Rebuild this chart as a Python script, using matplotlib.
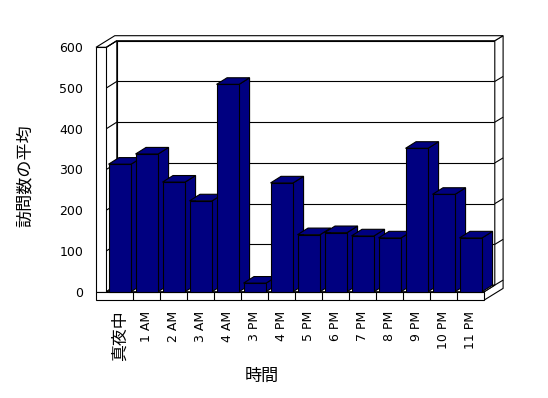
import matplotlib
matplotlib.use('Agg')
import matplotlib.pyplot as plt
from matplotlib.patches import Polygon

plt.rcParams['font.family'] = ['DejaVu Sans', 'Noto Sans CJK JP']

categories = ['真夜中', '1 AM', '2 AM', '3 AM', '4 AM', '3 PM', '4 PM', '5 PM',
              '6 PM', '7 PM', '8 PM', '9 PM', '10 PM', '11 PM']
values = [313, 338, 269, 223, 509, 21, 267, 140, 145, 137, 132, 352, 239, 132]
y_ticks = [0, 100, 200, 300, 400, 500, 600]
y_label = '訪問数の平均'
x_label = '時間'

W, H = 548, 398
fig = plt.figure(figsize=(W / 100, H / 100), dpi=100)
fig.patch.set_facecolor('white')

# front plane of the plot (pixels measured from the top-left)
L, R, T, B = 106.3, 484.3, 47.3, 291.7
ax = fig.add_axes([L / W, (H - B) / H, (R - L) / W, (B - T) / H])
n = len(categories)
ax.set_xlim(-0.5, n - 0.5)
ax.set_ylim(0, 600)
for s in ax.spines.values():
    s.set_visible(False)
ax.patch.set_visible(False)

pxx = (R - L) / n            # pixels per category
pxy = (B - T) / 600.0        # pixels per value unit
DX, DY = 10.5 / pxx, 6.6 / pxy      # depth of floor
TX, TY = 8.3 / pxx, 5.0 / pxy       # thickness of back wall
FT = 8.3 / pxy                      # floor thickness
LT = 10.3 / pxx                     # left wall thickness
LWD = 0.8
x0, x1 = -0.5, n - 0.5
ymax = 600
navy = '#000080'


def poly(pts, fc, z):
    ax.add_patch(Polygon(pts, closed=True, fc=fc, ec='black', lw=LWD,
                         zorder=z, clip_on=False, joinstyle='miter'))


def line(xs, ys, z):
    ax.plot(xs, ys, color='black', lw=LWD, zorder=z, clip_on=False,
            solid_capstyle='butt')


# back wall
poly([(x0 + DX, DY), (x1 + DX, DY), (x1 + DX, ymax + DY), (x0 + DX, ymax + DY)], 'white', 1)
for v in y_ticks[1:-1]:
    line([x0 + DX, x1 + DX], [v + DY, v + DY], 1.5)
# left wall inner face
poly([(x0, 0), (x0 + DX, DY), (x0 + DX, ymax + DY), (x0, ymax)], 'white', 2)
for v in y_ticks[1:]:
    line([x0, x0 + DX], [v, v + DY], 2.5)
# right side face (back wall + floor)
poly([(x1, -FT), (x1, 0), (x1 + DX, DY), (x1 + DX, ymax + DY),
      (x1 + DX + TX, ymax + DY + TY), (x1 + DX + TX, -FT + DY + TY)], 'white', 2)
for v in y_ticks[:-1]:
    line([x1 + DX, x1 + DX + TX], [v + DY, v + DY + TY], 2.5)
# top face
poly([(x0 - LT, ymax), (x0, ymax), (x0 + DX, ymax + DY), (x1 + DX, ymax + DY),
      (x1 + DX + TX, ymax + DY + TY), (x0 - LT + DX + TX, ymax + DY + TY)], 'white', 2)
# left wall front face
poly([(x0 - LT, 0), (x0, 0), (x0, ymax), (x0 - LT, ymax)], 'white', 3)
# floor
poly([(x0, 0), (x1, 0), (x1 + DX, DY), (x0 + DX, DY)], 'white', 3)
poly([(x0 - LT, -FT), (x1, -FT), (x1, 0), (x0 - LT, 0)], 'white', 3)
for k in range(n - 1):
    line([k + 0.5, k + 0.5], [-FT, 0], 3.5)

# bars
BW = 0.835
for i, v in enumerate(values):
    a, b = i - BW / 2, i + BW / 2
    z = 10 + 2 * i
    poly([(b, 0), (b + DX, DY), (b + DX, v + DY), (b, v)], navy, z)
    poly([(a, v), (b, v), (b + DX, v + DY), (a + DX, v + DY)], navy, z)
    ax.bar(i, v, width=BW, color=navy, edgecolor='black', linewidth=LWD,
           zorder=z + 1, clip_on=False)

# ticks
ax.set_yticks(y_ticks)
ax.set_yticklabels([str(t) for t in y_ticks])
ax.tick_params(axis='y', length=0, pad=16.5, labelsize=9)
ax.set_xticks(range(n))
ax.set_xticklabels(categories, rotation=90)
ax.tick_params(axis='x', length=0, pad=13.7, labelsize=9)
for lab in ax.get_xticklabels():
    if lab.get_text() == '真夜中':
        lab.set_fontfamily('Noto Sans CJK JP')
        lab.set_fontsize(12.2)

fig.text(25 / W, 1 - 176 / H, y_label, rotation=90, ha='center', va='center',
         fontsize=12.3, family='Noto Sans CJK JP')
fig.text(262 / W, 1 - 376 / H, x_label, ha='center', va='center',
         fontsize=12.3, family='Noto Sans CJK JP')

fig.savefig('out.png', dpi=100, facecolor='white')
